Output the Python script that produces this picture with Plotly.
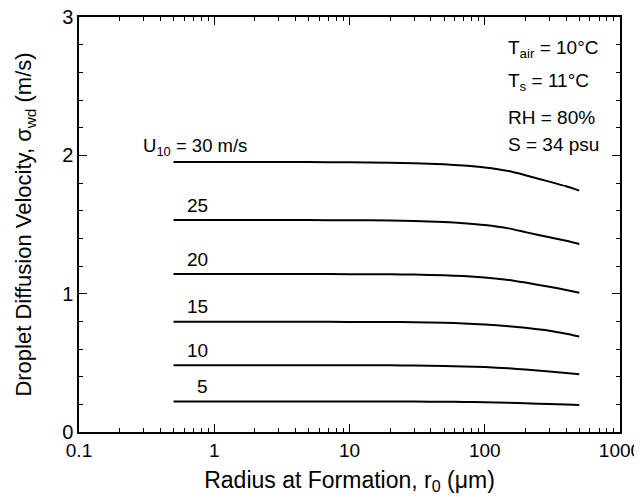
import math
import plotly.graph_objects as go

radius = [0.5, 1, 2, 5, 10, 20, 30, 50, 70, 100, 150, 200, 300, 400, 500]
wind_speeds = [30, 25, 20, 15, 10, 5]
sigma_30 = [1.952, 1.952, 1.952, 1.951, 1.950, 1.947, 1.943, 1.935, 1.926, 1.912, 1.886, 1.856, 1.810, 1.776, 1.745]
sigma_25 = [1.532, 1.532, 1.532, 1.532, 1.531, 1.529, 1.525, 1.518, 1.509, 1.496, 1.472, 1.445, 1.408, 1.382, 1.359]
sigma_20 = [1.142, 1.142, 1.142, 1.142, 1.141, 1.140, 1.138, 1.133, 1.127, 1.117, 1.099, 1.080, 1.050, 1.027, 1.007]
sigma_15 = [0.797, 0.797, 0.797, 0.797, 0.796, 0.795, 0.794, 0.790, 0.785, 0.777, 0.765, 0.753, 0.732, 0.710, 0.690]
sigma_10 = [0.483, 0.483, 0.483, 0.483, 0.483, 0.482, 0.481, 0.478, 0.474, 0.469, 0.461, 0.451, 0.438, 0.427, 0.418]
sigma_5 = [0.221, 0.221, 0.221, 0.221, 0.221, 0.221, 0.220, 0.219, 0.217, 0.215, 0.211, 0.207, 0.202, 0.199, 0.196]
series = [sigma_30, sigma_25, sigma_20, sigma_15, sigma_10, sigma_5]
labels = ["U<sub>10</sub> = 30 m/s", "25", "20", "15", "10", "5"]
x_ticks = [0.1, 1, 10, 100, 1000]
x_ticklabels = ["0.1", "1", "10", "100", "1000"]
y_ticks = [0, 1, 2, 3]
conditions = ["T<sub>air</sub> = 10°C", "T<sub>s</sub> = 11°C", "RH = 80%", "S = 34 psu"]

x_minor = [m * d for d in [0.1, 1, 10, 100] for m in range(2, 10)]

FONT = "Liberation Sans, Arial, sans-serif"
fig = go.Figure()
for u, ys in zip(wind_speeds, series):
    fig.add_trace(go.Scatter(x=radius, y=ys, mode="lines",
                             line=dict(color="black", width=2, shape="spline", smoothing=0.4),
                             showlegend=False, hoverinfo="skip"))

for i, (lab, ys) in enumerate(zip(labels, series)):
    if i == 0:
        fig.add_annotation(x=math.log10(0.285), y=ys[0], xref="x", yref="y", text=lab,
                           showarrow=False, xanchor="left", yanchor="middle", yshift=15,
                           font=dict(size=18.5, color="black", family=FONT))
    else:
        fig.add_annotation(x=math.log10(0.93), y=ys[0], xref="x", yref="y", text=lab,
                           showarrow=False, xanchor="right", yanchor="middle", yshift=15,
                           font=dict(size=19, color="black", family=FONT))

cond_y = [0.922, 0.843, 0.758, 0.692]
for txt, yy in zip(conditions, cond_y):
    fig.add_annotation(x=0.79, y=yy, xref="paper", yref="paper", text=txt,
                       showarrow=False, xanchor="left", yanchor="middle",
                       font=dict(size=19, color="black", family=FONT))

axis_common = dict(showline=True, linecolor="black", linewidth=1.5, mirror="allticks",
                   ticks="inside", ticklen=8, tickwidth=1.2, tickcolor="black",
                   showgrid=False, zeroline=False, automargin=False,
                   ticklabeloverflow="allow")

fig.update_xaxes(type="log", range=[-1, 3], tickvals=x_ticks, ticktext=x_ticklabels,
                 tickfont=dict(size=19, color="black", family=FONT),
                 minor=dict(tickvals=x_minor, ticks="inside", ticklen=4, tickwidth=1.2,
                            tickcolor="black", showgrid=False),
                 title=dict(text="Radius at Formation, r<sub>0</sub> (\u03bcm)",
                            font=dict(size=23, color="black", family=FONT), standoff=12),
                 **axis_common)
fig.update_yaxes(range=[0, 3], tickvals=y_ticks,
                 tickfont=dict(size=20, color="black", family=FONT),
                 minor=dict(ticks="inside", ticklen=4, tickwidth=1.2, tickcolor="black",
                            dtick=0.2, showgrid=False),
                 title=dict(text="Droplet Diffusion Velocity, \u03c3<sub>wd</sub> (m/s)",
                            font=dict(size=22, color="black", family=FONT), standoff=24),
                 **axis_common)

fig.update_layout(width=642, height=488, margin=dict(l=71, r=30, t=9, b=64),
                  plot_bgcolor="white", paper_bgcolor="white",
                  font=dict(family=FONT, color="black"))
fig.write_html("out.html")
